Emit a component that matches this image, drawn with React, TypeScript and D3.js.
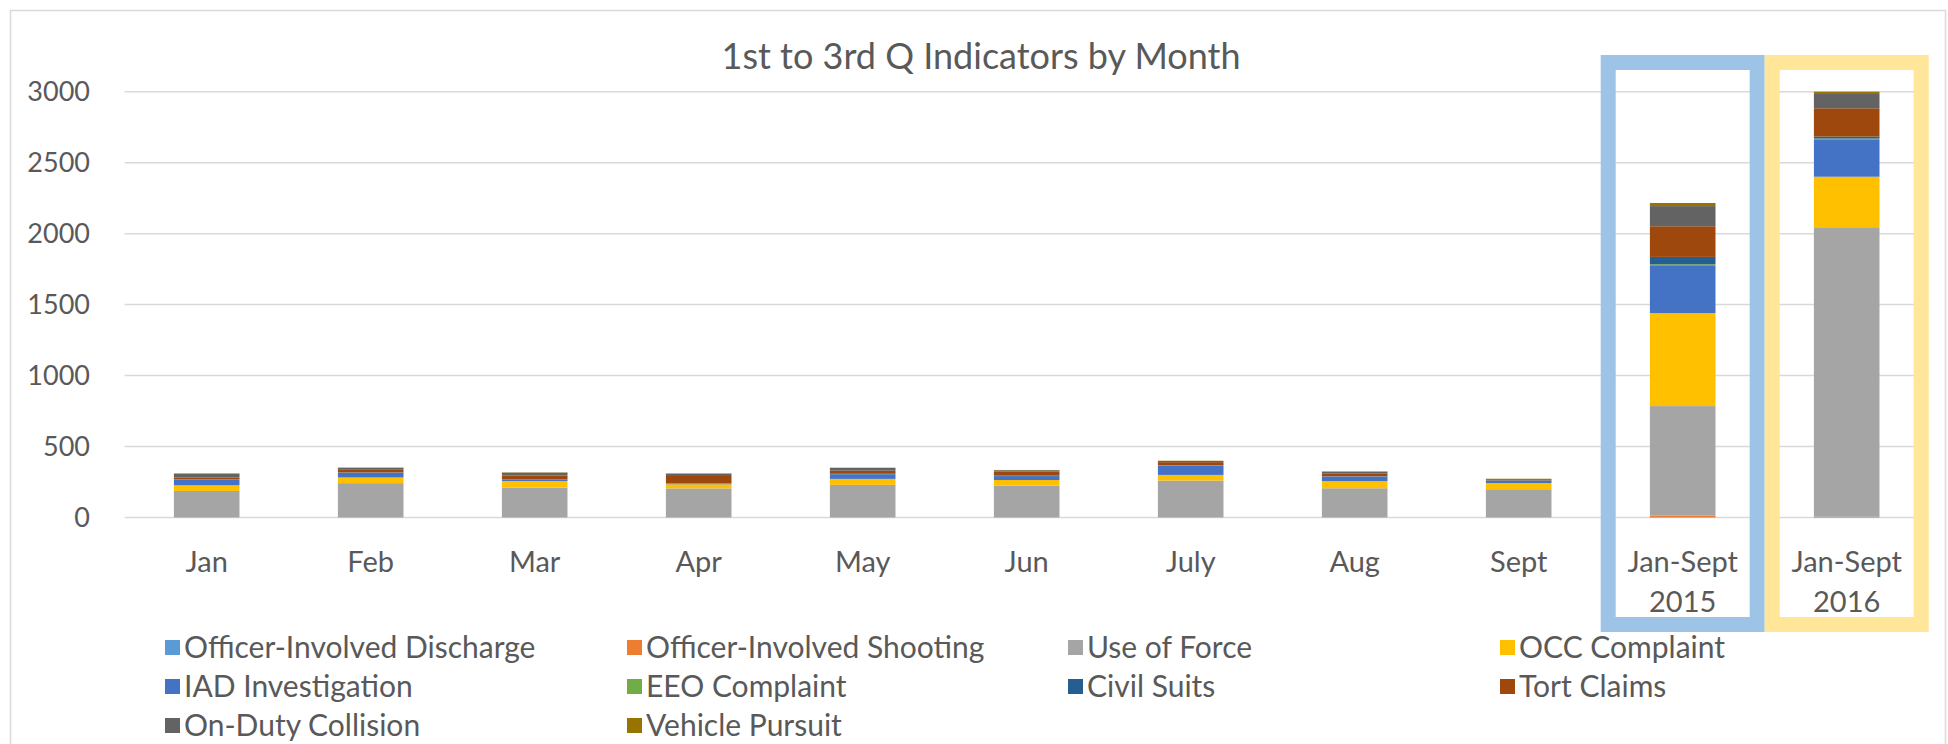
import React from 'react';
import * as d3 from 'd3';

const chartTitle = '1st to 3rd Q Indicators by Month';

const categories = ['Jan', 'Feb', 'Mar', 'Apr', 'May', 'Jun', 'July', 'Aug', 'Sept', 'Jan-Sept\n2015', 'Jan-Sept\n2016'];

const seriesNames = [
  'Officer-Involved Discharge',
  'Officer-Involved Shooting',
  'Use of Force',
  'OCC Complaint',
  'IAD Investigation',
  'EEO Complaint',
  'Civil Suits',
  'Tort Claims',
  'On-Duty Collision',
  'Vehicle Pursuit',
];

const seriesColors = ['#5B9BD5', '#ED7D31', '#A5A5A5', '#FFC000', '#4472C4', '#70AD47', '#255E91', '#9E480E', '#636363', '#997300'];

// values per category (Jan..Sept, Jan-Sept 2015, Jan-Sept 2016)
const officerDischarge = [0, 1, 0, 0, 1, 0, 0, 1, 0, 3, 3];
const officerShooting = [0, 0, 1, 0, 0, 0, 1, 0, 0, 10, 2];
const useOfForce = [187, 241, 210, 205, 229, 224, 259, 205, 199, 772, 2040];
const occComplaint = [40, 40, 46, 29, 42, 40, 40, 50, 44, 655, 356];
const iadInvestigation = [40, 33, 8, 5, 33, 28, 64, 33, 15, 332, 259];
const eeoComplaint = [1, 1, 1, 1, 1, 1, 2, 1, 1, 12, 10];
const civilSuits = [3, 2, 2, 1, 2, 2, 2, 1, 3, 52, 14];
const tortClaims = [10, 22, 28, 58, 22, 28, 22, 20, 3, 216, 199];
const onDutyCollision = [28, 10, 20, 10, 19, 10, 8, 12, 6, 142, 101];
const vehiclePursuit = [2, 2, 2, 2, 2, 2, 2, 2, 2, 22, 16];

const seriesValues = [
  officerDischarge, officerShooting, useOfForce, occComplaint, iadInvestigation,
  eeoComplaint, civilSuits, tortClaims, onDutyCollision, vehiclePursuit,
];

const yTicks = [0, 500, 1000, 1500, 2000, 2500, 3000];

const highlights = [
  { category: 'Jan-Sept\n2015', color: '#9DC3E6' },
  { category: 'Jan-Sept\n2016', color: '#FFE699' },
];

const W = 1948;
const H = 744;
const FONT = 'Lato, "Open Sans", sans-serif';
const TEXT = '#595959';
const plot = { left: 124.7, right: 1928.7, top: 91.7, bottom: 517.5 };

const legendCols = [165, 627, 1068, 1500];
const legendRows = [648, 687, 726];

export default function App() {
  const x = d3.scaleBand().domain(categories).range([plot.left, plot.right]).paddingInner(0.6).paddingOuter(0.3);
  const y = d3.scaleLinear().domain([0, 3000]).range([plot.bottom, plot.top]);

  const table = categories.map((c, i) => {
    const row: Record<string, any> = { category: c };
    seriesNames.forEach((s, k) => { row[s] = seriesValues[k][i]; });
    return row;
  });
  const stacked = d3.stack<any>().keys(seriesNames)(table);

  const band = d3.scaleBand().domain(categories).range([plot.left, plot.right]);

  return (
    <svg width={W} height={H} style={{ position: 'absolute', left: 0, top: 0, background: '#fff' }} fontFamily={FONT}>
      <rect x={10.5} y={10.5} width={1935} height={760} fill="#fff" stroke="#D9D9D9" strokeWidth={1.5} />

      <text x={981} y={69} textAnchor="middle" fontSize={36} fill={TEXT}>{chartTitle}</text>

      {yTicks.map((t) => (
        <g key={t}>
          <line x1={plot.left} x2={plot.right} y1={y(t)} y2={y(t)} stroke="#D9D9D9" strokeWidth={1.5} />
          <text x={90} y={y(t) + 9.5} textAnchor="end" fontSize={27} fill={TEXT}>{t}</text>
        </g>
      ))}

      {stacked.map((layer, k) => (
        <g key={layer.key} fill={seriesColors[k]}>
          {layer.map((d, i) => (
            <rect
              key={i}
              x={x(categories[i])}
              width={x.bandwidth()}
              y={y(d[1])}
              height={Math.max(0, y(d[0]) - y(d[1]))}
            />
          ))}
        </g>
      ))}

      {categories.map((c) => {
        const cx = (band(c) as number) + band.bandwidth() / 2;
        return c.split('\n').map((line, j) => (
          <text key={c + j} x={cx} y={572 + j * 40} textAnchor="middle" fontSize={29} fill={TEXT}>{line}</text>
        ));
      })}

      {highlights.map((h) => {
        const bx = band(h.category) as number;
        return (
          <rect key={h.category} x={bx + 7.5} y={62.5} width={band.bandwidth() - 15} height={562} fill="none" stroke={h.color} strokeWidth={15} />
        );
      })}

      {seriesNames.map((s, k) => {
        const col = k % 4;
        const row = Math.floor(k / 4);
        const lx = legendCols[col];
        const ly = legendRows[row];
        return (
          <g key={s}>
            <rect x={lx} y={ly - 8} width={15} height={15} fill={seriesColors[k]} />
            <text x={lx + 19} y={ly + 10} fontSize={30} fill={TEXT}>{s}</text>
          </g>
        );
      })}
    </svg>
  );
}
